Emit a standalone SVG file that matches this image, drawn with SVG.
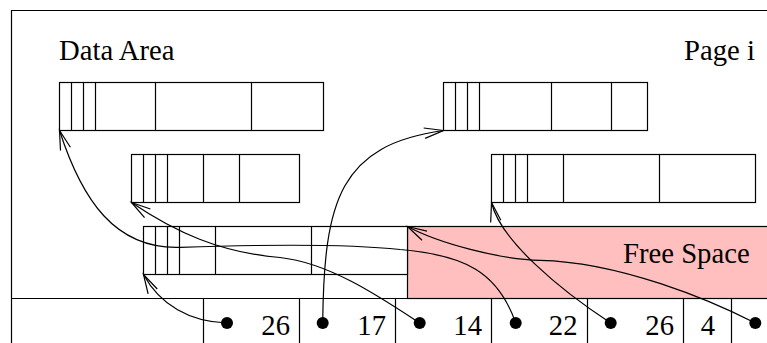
<svg xmlns="http://www.w3.org/2000/svg" width="767" height="343" viewBox="0 0 767 343">
<style>
.ln{fill:none;stroke:#000;stroke-width:1.2}
.bx{fill:#fff;stroke:#000;stroke-width:1.2}
.free{fill:#ffbfbf;stroke:#000;stroke-width:1.2}
.t{font-family:"Liberation Serif","Times New Roman",serif;font-size:28.7px;fill:#000}
.dot{fill:#000}
.con{fill:none;stroke:#000;stroke-width:1.2;marker-end:url(#arr)}
</style>
<defs>
<marker id="arr" markerUnits="userSpaceOnUse" markerWidth="30" markerHeight="30" viewBox="-25 -15 30 30" refX="0" refY="0" orient="auto" overflow="visible">
<path d="M-19.3,-5.2 L0,0 L-19.3,5.2" fill="none" stroke="#000" stroke-width="1.2"/>
</marker>
</defs>
<rect width="767" height="343" fill="#fff"/>
<g id="page-frame">
<path class="ln" d="M11.5,343 L11.5,10.5 L770,10.5"/>
<text class="t" x="59" y="60">Data Area</text>
<text class="t" x="684" y="60">Page i</text>
</g>
<g id="free-space">
<rect class="free" x="407.5" y="226.5" width="365" height="72"/>
<text class="t" x="623" y="262.7">Free Space</text>
</g>
<g id="record-a">
<rect class="bx" x="59.5" y="82.5" width="264" height="48"/>
<path class="ln" d="M71.5,82.5V130.5M83.5,82.5V130.5M95.5,82.5V130.5M155.5,82.5V130.5M251.5,82.5V130.5"/>
</g>
<g id="record-b">
<rect class="bx" x="443.5" y="82.5" width="204" height="48"/>
<path class="ln" d="M455.5,82.5V130.5M467.5,82.5V130.5M479.5,82.5V130.5M551.5,82.5V130.5M611.5,82.5V130.5"/>
</g>
<g id="record-c">
<rect class="bx" x="131.5" y="154.5" width="168" height="48"/>
<path class="ln" d="M143.5,154.5V202.5M155.5,154.5V202.5M167.5,154.5V202.5M203.5,154.5V202.5M239.5,154.5V202.5"/>
</g>
<g id="record-d">
<rect class="bx" x="491.5" y="154.5" width="264" height="48"/>
<path class="ln" d="M503.5,154.5V202.5M515.5,154.5V202.5M527.5,154.5V202.5M563.5,154.5V202.5M659.5,154.5V202.5"/>
</g>
<g id="record-e">
<rect class="bx" x="143.5" y="226.5" width="264" height="48"/>
<path class="ln" d="M155.5,226.5V274.5M167.5,226.5V274.5M179.5,226.5V274.5M215.5,226.5V274.5M311.5,226.5V274.5"/>
</g>
<g id="slot-array">
<path class="ln" d="M11.5,298.5H770M203.5,298.5V343M299.5,298.5V343M395.5,298.5V343M491.5,298.5V343M587.5,298.5V343M683.5,298.5V343M731.5,298.5V343"/>
<text class="t" x="290" y="334.5" text-anchor="end">26</text>
<text class="t" x="386" y="334.5" text-anchor="end">17</text>
<text class="t" x="482" y="334.5" text-anchor="end">14</text>
<text class="t" x="577.5" y="334.5" text-anchor="end">22</text>
<text class="t" x="674" y="334.5" text-anchor="end">26</text>
<text class="t" x="715" y="334.5" text-anchor="end">4</text>
</g>
<g id="connectors">
<path class="con" d="M227,323 C190,322 160,305 143.5,274.5"/>
<path class="con" d="M322.7,323 C324,200 340,145 443.5,130.5"/>
<path class="con" d="M419.7,323 C380,297 330,263 280,257.5 C220,252.5 175,232 131.5,202.5"/>
<path class="con" d="M515.7,323 C498,272 465,255 400,249.5 C340,243 250,245 180,247.3 C115,249.4 82,200 59.5,130.5"/>
<path class="con" d="M610.7,323 C560,290 500,240 491.5,202.5"/>
<path class="con" d="M755.3,323 C710,300 620,262 540,260.3 C500,259.5 438.5,243.2 407.5,226.5"/>
</g>
<g id="slot-dots">
<circle class="dot" cx="227" cy="323" r="6"/>
<circle class="dot" cx="322.7" cy="323" r="6"/>
<circle class="dot" cx="419.7" cy="323" r="6"/>
<circle class="dot" cx="515.7" cy="323" r="6"/>
<circle class="dot" cx="610.7" cy="323" r="6"/>
<circle class="dot" cx="755.3" cy="323" r="6"/>
</g>
</svg>
